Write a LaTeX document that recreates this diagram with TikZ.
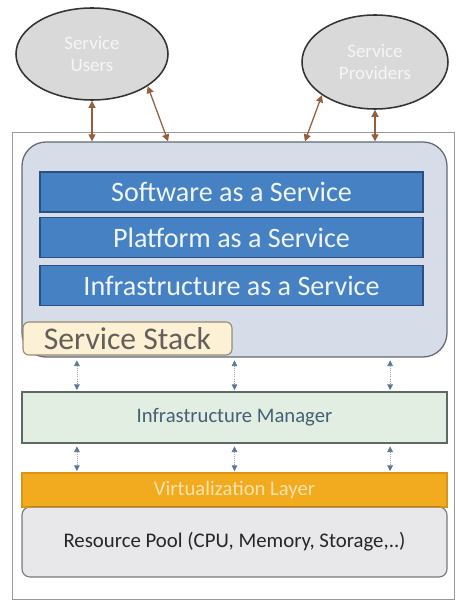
\documentclass[tikz,border=0pt]{standalone}
\usepackage{fontspec}
\setmainfont{Carlito}
\usetikzlibrary{arrows.meta, positioning, shapes.geometric, calc}

\definecolor{cloudfill}{RGB}{217,217,217}
\definecolor{linkbrown}{RGB}{150,95,60}
\definecolor{stackfill}{RGB}{214,220,232}
\definecolor{stackline}{RGB}{100,105,115}
\definecolor{svcblue}{RGB}{70,130,195}
\definecolor{svcline}{RGB}{40,80,130}
\definecolor{tagfill}{RGB}{253,241,213}
\definecolor{tagline}{RGB}{150,140,115}
\definecolor{tagtext}{RGB}{100,95,90}
\definecolor{mgrfill}{RGB}{226,238,226}
\definecolor{mgrline}{RGB}{95,105,100}
\definecolor{mgrtext}{RGB}{70,95,120}
\definecolor{virtfill}{RGB}{242,170,30}
\definecolor{virtline}{RGB}{215,150,20}
\definecolor{virttext}{RGB}{250,228,175}
\definecolor{poolfill}{RGB}{232,232,234}
\definecolor{poolline}{RGB}{120,120,120}
\definecolor{hopline}{RGB}{150,165,185}
\definecolor{hoptip}{RGB}{90,120,150}

\begin{document}
\begin{tikzpicture}[
    cloud/.style={ellipse, draw=black!80, line width=1.1pt, fill=cloudfill,
      text=white!93!gray, align=center, font=\fontsize{13.5}{15}\selectfont},
    svc/.style={draw=svcline, line width=0.8pt, fill=svcblue, text=white!92!svcblue,
      minimum width=9.575cm, minimum height=1cm, font=\fontsize{20}{23}\selectfont},
    layer/.style={draw, line width=0.8pt, minimum width=10.625cm},
    link/.style={<->, linkbrown, line width=0.9pt},
    hop/.style={{Triangle[width=4pt,length=4pt,color=hoptip]}-{Triangle[width=4pt,length=4pt,color=hoptip]},
      hopline, densely dotted, line width=0.5pt, shorten <=2pt, shorten >=1pt},
    >={Triangle[width=5pt,length=5pt]}
  ]
  \useasboundingbox (0,0) rectangle (11.375,-15.075);

  % --- outer frame ---
  \draw[gray!80, line width=0.6pt] (0.3,-3.3) rectangle (11.35,-14.975);

  % --- users and providers ---
  \node[cloud, minimum width=3.8cm, minimum height=2.3cm] (users) at (2.3,-1.35) {Service\\Users};
  \node[cloud, minimum width=3.65cm, minimum height=2.35cm] (providers) at (9.375,-1.55) {Service\\Providers};

  % --- service stack ---
  \node[draw=stackline, line width=0.9pt, fill=stackfill, rounded corners=0.6cm,
    minimum width=10.625cm, minimum height=5.375cm] (stack) at (5.8625,-6.2375) {};
  \node[svc] (saas) at (5.7875,-4.8) {Software as a Service};
  \node[svc] (paas) at (5.7875,-5.94) {Platform as a Service};
  \node[svc] (iaas) at (5.7875,-7.14) {Infrastructure as a Service};
  \node[draw=tagline, line width=0.8pt, fill=tagfill, text=tagtext, rounded corners=0.15cm,
    minimum width=5.225cm, minimum height=0.825cm, inner sep=1pt, font=\fontsize{22.5}{24}\selectfont]
    (tag) at (3.1875,-8.4625) {Service Stack};

  \draw[link] (stack.north -| users.south) -- (users.south);
  \draw[link] ([xshift=-1.66cm]stack.north) -- (users.-30);
  \draw[link] ([xshift=1.76cm]stack.north) -- (providers.-148);
  \draw[link] (stack.north -| providers.south) -- (providers.south);

  % --- manager, virtualization, pool ---
  \node[layer, draw=mgrline, fill=mgrfill, text=mgrtext, minimum height=1.275cm,
    font=\fontsize{14.7}{17}\selectfont] (mgr) at (5.8625,-10.4375) {Infrastructure Manager};
  \node[layer, draw=virtline, fill=virtfill, text=virttext, minimum height=0.85cm,
    font=\fontsize{14.7}{17}\selectfont] (virt) at (5.8625,-12.25) {Virtualization Layer};
  \node[layer, draw=poolline, fill=poolfill, text=black!85, rounded corners=0.2cm,
    minimum height=1.75cm, font=\fontsize{14.8}{17}\selectfont]
    (pool) at (5.8625,-13.55) {Resource Pool (CPU, Memory, Storage,..)};
  \draw[virtline, line width=0.8pt] (virt.south west) -- (virt.south east);

  \foreach \dx in {-3.94, 0, 3.89} {
    \draw[hop] ([xshift=\dx cm]stack.south) -- ([xshift=\dx cm]mgr.north);
    \draw[hop] ([xshift=\dx cm]mgr.south) -- ([xshift=\dx cm]virt.north);
  }

\end{tikzpicture}
\end{document}
